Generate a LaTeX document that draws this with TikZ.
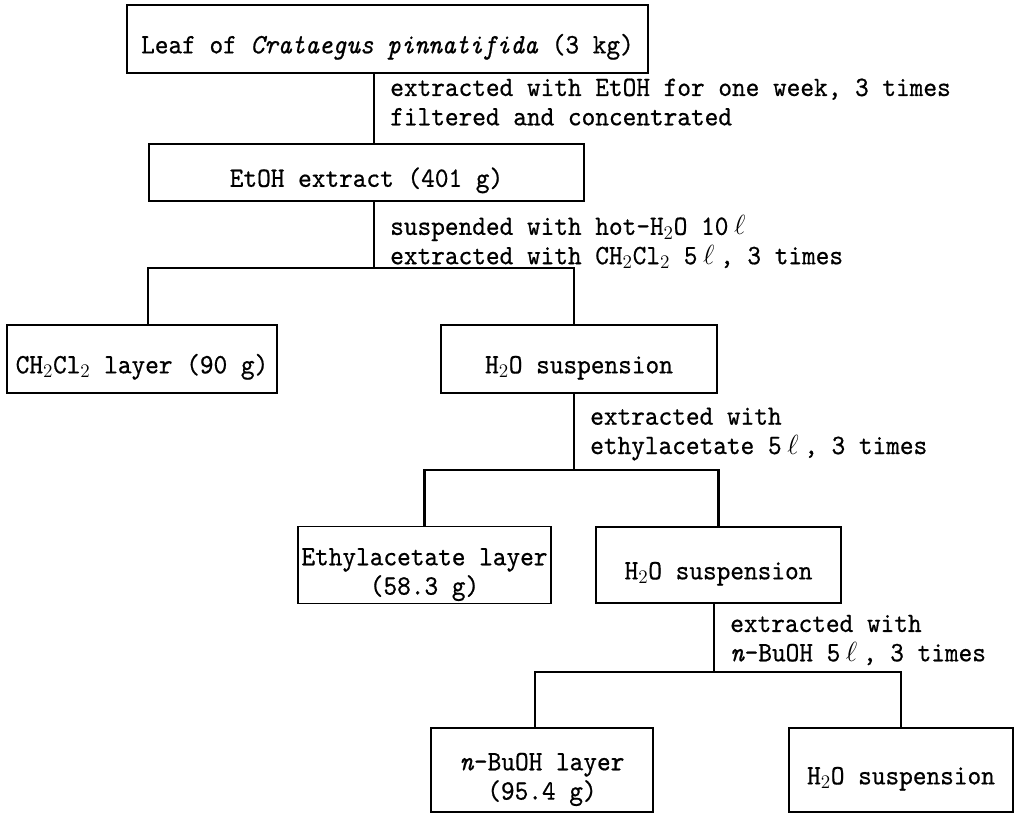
\documentclass[tikz,border=0pt]{standalone}
\usepackage{fontspec}
\usetikzlibrary{calc}

\newfontfamily\flowfont{lmmono10-regular.otf}[FakeStretch=0.93, FakeBold=0.6, ItalicFont=lmmono10-italic.otf]
\newcommand{\lit}{\hspace{0.2em}$\ell$\hspace{0.2em}}
\newcommand{\twolines}[2]{\begin{tabular}[t]{@{}c@{}}#1\\#2\end{tabular}}

\begin{document}
\begin{tikzpicture}[x=0.75pt, y=-0.75pt,
  every node/.style={font=\fontsize{21}{22}\selectfont\flowfont},
  box/.style={draw, line width=1pt, inner sep=0pt, text height=21.5pt, text depth=0pt},
  box2/.style={draw, line width=1pt, inner sep=0pt, text height=29pt},
  note/.style={anchor=west, inner sep=0pt, align=left},
  link/.style={line width=2pt}]
  \useasboundingbox (0,0) rectangle (1015,814);

  \node[box, minimum width=390.75pt, minimum height=51pt] (1) at (387.5,39) {Leaf of \textit{Crataegus pinnatifida} (3 kg)};
  \node[box, minimum width=326.25pt, minimum height=42.75pt] (2) at (366.5,172.5) {EtOH extract (401 g)};
  \node[box, minimum width=202.5pt, minimum height=51pt] (3) at (142,359) {CH$_2$Cl$_2$ layer (90 g)};
  \node[box, minimum width=207pt, minimum height=51pt] (4) at (579,359) {H$_2$O suspension};
  \node[box2, minimum width=189.75pt, minimum height=57pt] (5) at (424.5,565) {\twolines{Ethylacetate layer}{(58.3 g)}};
  \node[box, minimum width=183.75pt, minimum height=57pt] (6) at (718.5,565) {H$_2$O suspension};
  \node[box2, minimum width=166.5pt, minimum height=63pt] (7) at (542,770) {\twolines{\textit{n}-BuOH layer}{(95.4 g)}};
  \node[box, minimum width=168pt, minimum height=63pt] (8) at (901,770) {H$_2$O suspension};

  % extraction steps
  \node[note] (a) at (390,102) {extracted with EtOH for one week, 3 times\\filtered and concentrated};
  \node[note] (b) at (390,242) {suspended with hot-H$_2$O 10\lit\\extracted with CH$_2$Cl$_2$ 5\lit, 3 times};
  \node[note] (c) at (590,434) {extracted with\\ethylacetate 5\lit, 3 times};
  \node[note] (d) at (730,640) {extracted with\\\textit{n}-BuOH 5\lit, 3 times};

  \coordinate (j1) at (374,268);
  \coordinate (j2) at (574,470);
  \coordinate (j3) at (714,672);

  \draw[link] (1.south -| j1) -- (2.north -| j1);
  \draw[link] (2.south -| j1) -- (j1);
  \draw[link] ([xshift=4.5pt]3.north) |- (j1) -| ([xshift=-3.75pt]4.north);
  \draw[link] (4.south -| j2) -- (j2);
  \draw[link] (5.north) |- (j2) -| (6.north);
  \draw[link] (6.south -| j3) -- (j3);
  \draw[link] ([xshift=-5.25pt]7.north) |- (j3) -| (8.north);
\end{tikzpicture}
\end{document}
